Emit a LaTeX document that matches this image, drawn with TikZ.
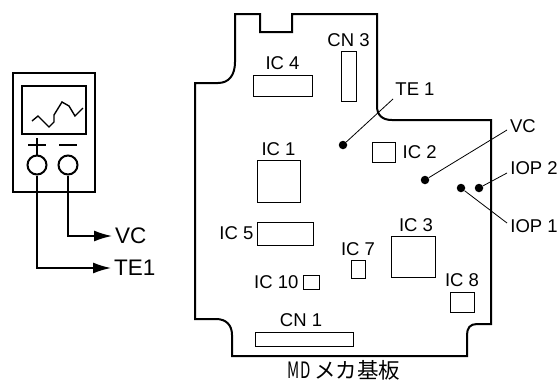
\documentclass[tikz,border=0pt]{standalone}
\usepackage{fontspec}
\setmainfont{Liberation Sans}
\newfontfamily\cjk{Noto Sans CJK JP}
\usetikzlibrary{positioning,arrows.meta}
\begin{document}
\begin{tikzpicture}[x=1pt, y=-1pt,
    ic box/.style={draw, line width=0.9pt, rectangle, inner sep=0pt, minimum width=#1},
    ic label/.style={inner sep=0pt, text depth=0pt, font=\fontsize{18.5}{20}\selectfont},
    out label/.style={inner sep=0pt, anchor=west, font=\fontsize{22.5}{24}\selectfont},
    test pt/.style={circle, fill=black, inner sep=0pt, minimum size=8.5pt},
    leader/.style={line width=0.8pt},
    probe/.style={line width=1.6pt, shorten >=3pt, -{Latex[length=18pt,width=11pt]}},
    term/.style={draw, circle, line width=2pt, inner sep=0pt, minimum size=19pt}]
    \useasboundingbox (0,0) rectangle (559,383);

    % scope
    \node[draw, line width=2pt, minimum width=82pt, minimum height=119pt, inner sep=0pt] (meter) at (54,132.5) {};
    \node[draw, line width=2pt, minimum width=64pt, minimum height=48pt, inner sep=0pt] (screen) at (54,110) {};
    \draw[line width=1.4pt] (32,121) -- (38,116) -- (49,127) -- (54,122) -- (54,115) -- (62,102) -- (69,106) -- (75,116) -- (83,108);
    \node[term] (plus) at (37,165) {};
    \node[term] (minus) at (68,165) {};
    \draw[line width=1.6pt] (28,145) -- (46,145) (37,138) -- (plus);
    \draw[line width=1.6pt] (59,145) -- (77,145);
    \node[out label] (vc out) at (115,236) {VC};
    \node[out label] (te out) at (114,268) {TE1};
    \draw[probe] (plus) |- (te out);
    \draw[probe] (minus) |- (vc out);

    % board outline
    \draw[line width=2pt, line join=miter] (235,14) -- (260,14) -- (260,32) -- (292,32) -- (292,14) -- (377,14) -- (377,106)
        .. controls (377,115) and (382,120) .. (392,120) -- (491,120) -- (491,324) -- (477,324)
        .. controls (470,324) and (467,328) .. (467,335) -- (467,356) -- (232,356) -- (232,335)
        .. controls (232,325) and (226,319) .. (216,319) -- (195,319) -- (195,83) -- (218,83)
        .. controls (229,83) and (235,75) .. (235,62) -- cycle;

    % parts
    \node[ic box=59pt, minimum height=21pt] (ic4) at (282.5,85.5) {};
    \node[ic box=15pt, minimum height=50pt] (cn3) at (348.5,76) {};
    \node[ic box=43pt, minimum height=42pt] (ic1) at (278.5,181) {};
    \node[ic box=23pt, minimum height=20pt] (ic2) at (383.5,152) {};
    \node[ic box=56pt, minimum height=23pt] (ic5) at (285,233.5) {};
    \node[ic box=14pt, minimum height=18pt] (ic7) at (358,269) {};
    \node[ic box=16pt, minimum height=14pt] (ic10) at (311,282) {};
    \node[ic box=98pt, minimum height=14pt] (cn1) at (304,339) {};
    \node[ic box=44pt, minimum height=41pt] (ic3) at (413,256.5) {};
    \node[ic box=24pt, minimum height=20pt] (ic8) at (462,302) {};

    \node[ic label, above=5pt of ic4] {IC 4};
    \node[ic label, above=4pt of cn3] {CN 3};
    \node[ic label, above=4pt of ic1] {IC 1};
    \node[ic label, right=7pt of ic2] {IC 2};
    \node[ic label, left=3pt of ic5] {IC 5};
    \node[ic label, above=4pt of ic7] {IC 7};
    \node[ic label, left=4pt of ic10] {IC 10};
    \node[ic label, above=5pt of cn1, xshift=-3pt] {CN 1};
    \node[ic label, above=4pt of ic3, xshift=3pt] {IC 3};
    \node[ic label, above=5pt of ic8] {IC 8};

    % test points
    \node[test pt] (te1) at (343,145) {};
    \node[test pt] (vc) at (425,180) {};
    \node[test pt] (iop1) at (461,188) {};
    \node[test pt] (iop2) at (479,188) {};
    \coordinate (te1 end) at (393,99);
    \coordinate (vc end) at (507,130);
    \coordinate (iop2 end) at (507,173);
    \coordinate (iop1 end) at (507,223);
    \node[ic label] (te1 label) at (415,89) {TE 1};
    \node[ic label] (vc label) at (523,126) {VC};
    \node[ic label] (iop2 label) at (534,168) {IOP 2};
    \node[ic label] (iop1 label) at (534,226) {IOP 1};
    \draw[leader] (te1) -- (te1 end);
    \draw[leader] (vc) -- (vc end);
    \draw[leader] (iop2) -- (iop2 end);
    \draw[leader] (iop1) -- (iop1 end);

    \node[inner sep=0pt] (board name) at (344,370.5) {\fontsize{21.5}{23}\selectfont\cjk\scalebox{0.7}[1.05]{MD}\,メカ基板};
\end{tikzpicture}
\end{document}
